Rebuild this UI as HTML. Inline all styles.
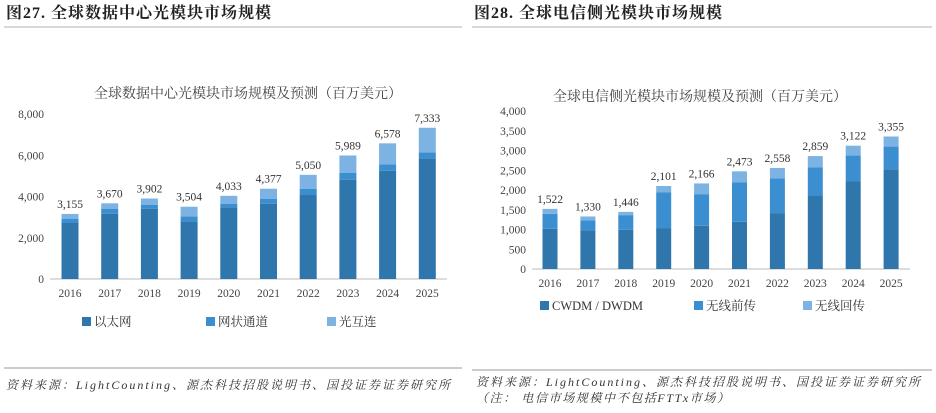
<!DOCTYPE html>
<html><head><meta charset="utf-8"><style>
body{margin:0;background:#fff;width:936px;height:408px;overflow:hidden;font-family:"Liberation Serif","Noto Serif CJK SC",serif}
svg text{font-family:"Liberation Serif","Noto Serif CJK SC",serif}
</style></head><body>
<svg id="s" width="936" height="408">
<text x="6" y="18" font-size="16" font-weight="bold" letter-spacing="1" fill="#222" font-family="'Noto Sans CJK SC',sans-serif">图27. 全球数据中心光模块市场规模</text>
<line x1="4" y1="27" x2="462" y2="27" stroke="#b0b0b0"/>
<text x="474" y="18" font-size="16" font-weight="bold" letter-spacing="1" fill="#222" font-family="'Noto Sans CJK SC',sans-serif">图28. 全球电信侧光模块市场规模</text>
<line x1="472" y1="27" x2="932" y2="27" stroke="#b0b0b0"/>
<text x="248" y="98" font-size="14" text-anchor="middle" fill="#444">全球数据中心光模块市场规模及预测（百万美元）</text>
<text x="700" y="101" font-size="14" text-anchor="middle" fill="#444">全球电信侧光模块市场规模及预测（百万美元）</text>
<line x1="4" y1="368" x2="462" y2="368" stroke="#999"/>
<line x1="472" y1="370" x2="932" y2="370" stroke="#999"/>
<text x="6" y="389" font-size="12" font-style="italic" letter-spacing="2" fill="#333" font-family="'Liberation Mono','Noto Sans CJK SC',monospace">资料来源：LightCounting、源杰科技招股说明书、国投证券证券研究所</text>
<text x="476" y="386" font-size="12" font-style="italic" letter-spacing="2" fill="#333" font-family="'Liberation Mono','Noto Sans CJK SC',monospace">资料来源：LightCounting、源杰科技招股说明书、国投证券证券研究所</text>
<text x="476" y="402" font-size="12" font-style="italic" letter-spacing="1.6" fill="#333">（注： 电信市场规模中不包括FTTx市场）</text>
</svg>
<script>
const years=["2016","2017","2018","2019","2020","2021","2022","2023","2024","2025"];
const dcEthernet=[2715,3167,3410,2796,3474,3652,4072,4816,5252,5850];
const dcNetwork=[194,243,194,242,162,243,307,323,307,291];
const dcTotal=[3155,3670,3902,3504,4033,4377,5050,5989,6578,7333];
const dcTicks=[0,2000,4000,6000,8000];
const tcCwdm=[1019,977,994,1036,1095,1196,1415,1869,2215,2526];
const tcFront=[379,252,370,909,800,1002,875,708,657,573];
const tcTotal=[1522,1330,1446,2101,2166,2473,2558,2859,3122,3355];
const tcTicks=[0,500,1000,1500,2000,2500,3000,3500,4000];
const C1="#2f76ac",C2="#3b8fd1",C3="#7cb3e2";
const svg=document.getElementById('s');const NS="http://www.w3.org/2000/svg";
function mk(t,a,txt){const e=document.createElementNS(NS,t);for(const k in a)e.setAttribute(k,a[k]);if(txt!==undefined)e.textContent=txt;svg.appendChild(e);return e;}
function fmt(v){return v.toLocaleString('en-US');}
function chart(cfg){
 const y=v=>cfg.y0-(v/cfg.max)*(cfg.y0-cfg.yTop);
 const x=i=>cfg.x0+i*cfg.step;
 cfg.ticks.forEach(t=>{const e=mk('text',{x:cfg.axX-6,y:y(t)+4,'font-size':11.5,'text-anchor':'end',fill:'#444'},fmt(t));
  
  });
 const ax=mk('line',{x1:cfg.axX,x2:cfg.axX2,y1:cfg.y0,y2:cfg.y0,stroke:'#bbb'});
 
 
 years.forEach((yr,i)=>{
  const a=cfg.s1[i],b=cfg.s2[i],tot=cfg.tot[i],w=cfg.bw,cx=x(i);
  const segs=[[0,a,C1],[a,a+b,C2],[a+b,tot,C3]];
  segs.forEach((s,j)=>{const r=mk('rect',{x:cx-w/2,y:y(s[1]),width:w,height:Math.max(0,y(s[0])-y(s[1])),fill:s[2]});
   
   });
  const l=mk('text',{x:cx,y:y(tot)-6,'font-size':11.5,'text-anchor':'middle',fill:'#333'},fmt(tot));
  
  
  const xl=mk('text',{x:cx,y:cfg.y0+18,'font-size':11.5,'text-anchor':'middle',fill:'#444'},yr);
  
  
 });
 cfg.legend.forEach((lg,i)=>{
  const r=mk('rect',{x:lg[0],y:cfg.ly-9,width:9,height:9,fill:[C1,C2,C3][i]});
  
  
  const t=mk('text',{x:lg[0]+12,y:cfg.ly,'font-size':12.5,fill:'#333'},lg[1]);
  
  
 });
}
chart({id:'dc',y0:279,yTop:114,max:8000,x0:70,step:39.7,bw:17,axX:50,axX2:447,ticks:dcTicks,s1:dcEthernet,s2:dcNetwork,tot:dcTotal,ly:326,legend:[[82,'以太网'],[206,'网状通道'],[327,'光互连']]});
chart({id:'tc',y0:269,yTop:111,max:4000,x0:550,step:37.9,bw:15,axX:532,axX2:910,ticks:tcTicks,s1:tcCwdm,s2:tcFront,tot:tcTotal,ly:310,legend:[[540,'CWDM / DWDM'],[694,'无线前传'],[803,'无线回传']]});
</script>
</body></html>
